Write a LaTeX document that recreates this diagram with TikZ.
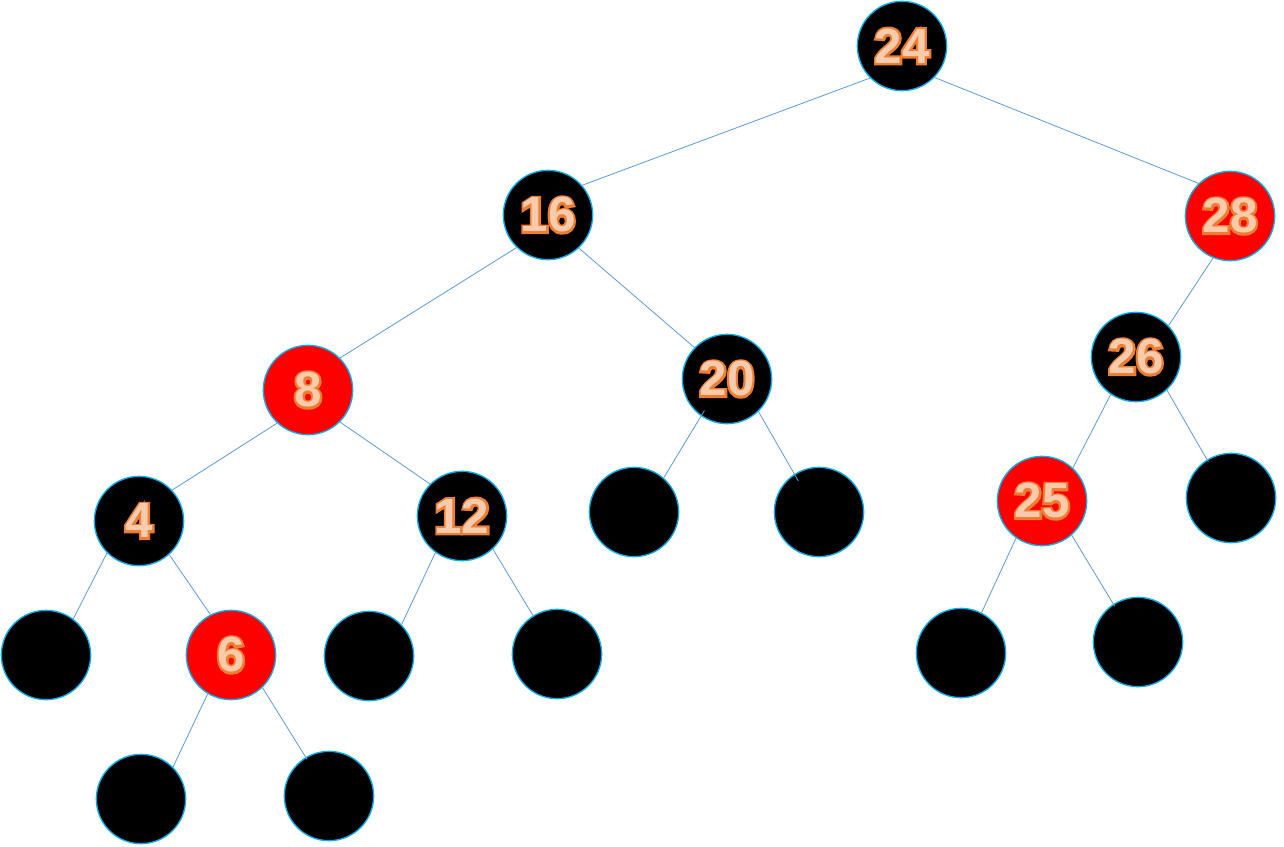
\documentclass[tikz,border=0pt]{standalone}
\usepackage{fontspec}
\setmainfont{Liberation Sans}
\usepackage{xcolor}
\usepackage{tikz}
\usetikzlibrary{positioning}

\definecolor{ringblue}{HTML}{00B0F0}
\definecolor{lineblue}{HTML}{5B9BD5}
\definecolor{peach}{HTML}{F8CBAD}
\definecolor{rim}{HTML}{ED7D31}
% orange rim under a peach fill
\newcommand{\key}[1]{\rlap{\textcolor{rim}{\addfontfeature{FakeBold=9}#1}}\textcolor{peach}{#1}}

\begin{document}
\begin{tikzpicture}[
  x=0.75pt, y=-0.75pt,
  blk/.style={circle, draw=ringblue, line width=1pt, fill=black, minimum size=67pt, inner sep=0pt,
    font=\fontsize{37}{37}\selectfont\bfseries},
  rd/.style={blk, fill=red},
  nil/.style={blk},
  ln/.style={draw=lineblue, line width=0.6pt}
]
  \useasboundingbox (0,0) rectangle (1284,846);

  % inner nodes
  \node[blk] (n24) at (902,46) {\key{24}};
  \node[blk] (n16) at (548,215) {\key{16}};
  \node[rd] (n28) at (1230,216) {\key{28}};
  \node[rd] (n8) at (308,390) {\key{8}};
  \node[blk] (n20) at (727,379) {\key{20}};
  \node[blk] (n26) at (1136,357) {\key{26}};
  \node[blk] (n4) at (139,521) {\key{4}};
  \node[blk] (n12) at (462,516) {\key{12}};
  \node[rd] (n25) at (1042,501) {\key{25}};
  \node[rd] (n6) at (231,655) {\key{6}};

  % leaves
  \node[nil] (l20a) at (634,512) {};
  \node[nil] (l20b) at (819,512) {};
  \node[nil] (l26b) at (1231,498) {};
  \node[nil] (l4a) at (46,655) {};
  \node[nil] (l12a) at (369,656) {};
  \node[nil] (l12b) at (557,654) {};
  \node[nil] (l25a) at (961,653) {};
  \node[nil] (l25b) at (1138,642) {};
  \node[nil] (l6a) at (141,799) {};
  \node[nil] (l6b) at (329,796) {};

  \draw[ln] (n24.225) -- (n16.41);
  \draw[ln] (n24.316) -- (n28.134);
  \draw[ln] (n16.226) -- (n8.45);
  \draw[ln] (n16.313) -- (n20.136);
  \draw[ln] (n28.248) -- (n26.44);
  \draw[ln] (n8.227) -- (n4.43);
  \draw[ln] (n8.315) -- (n12.135);
  \draw[ln, shorten <=-5pt] (n20.235) -- (l20a.49);
  \draw[ln, shorten >=-6pt] (n20.314) -- (l20b.123);
  \draw[ln] (n26.236) -- (n25.47);
  \draw[ln, shorten >=-2pt] (n26.313) -- (l26b.122);
  \draw[ln] (n4.225) -- (l4a.53);
  \draw[ln] (n4.312) -- (n6.117);
  \draw[ln] (n12.234) -- (l12a.44);
  \draw[ln, shorten >=-1pt] (n12.313) -- (l12b.122);
  \draw[ln] (n25.235) -- (l25a.63);
  \draw[ln, shorten >=-2pt] (n25.311) -- (l25b.123);
  \draw[ln] (n6.239) -- (l6a.45);
  \draw[ln, shorten >=-2pt] (n6.314) -- (l6b.121);
\end{tikzpicture}
\end{document}
